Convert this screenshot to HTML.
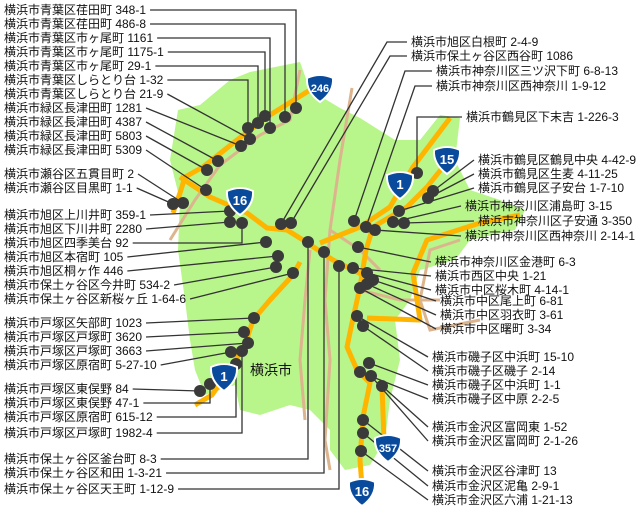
<!DOCTYPE html>
<html><head><meta charset="utf-8"><style>
html,body{margin:0;padding:0;background:#fff}
svg{display:block}
text{font-family:"Liberation Sans","Noto Sans CJK JP",sans-serif;font-size:12px;fill:#111}
.sh text{fill:#fff;font-weight:bold;font-size:13px;text-anchor:middle}
</style></head><body>
<svg id="s" width="640" height="510" viewBox="0 0 640 510" xmlns="http://www.w3.org/2000/svg">
<polygon fill="#b8f58a" points="250,72 300,62 310,90 340,108 360,118 395,140 420,140 440,115 460,118 455,160 470,190 500,200 525,210 515,230 470,240 455,260 420,270 410,300 395,320 400,360 390,400 385,440 370,465 345,470 330,450 330,430 310,410 290,405 260,415 240,410 235,385 205,395 195,370 190,340 185,300 178,250 180,200 170,160 178,110 200,105 230,80"/>
<g fill="none" stroke="#dcb48e" stroke-width="3">
<polyline points="300,70 290,120 260,135 220,165 195,200 170,240"/>
<polyline points="352,88 340,160 330,230 325,300 330,360 325,440 330,470"/>
<polyline points="310,250 305,300 300,360 305,420"/>
<polyline points="460,240 430,250 420,300 430,330 480,320"/>
<polyline points="360,290 400,300 440,300"/>
<polyline points="330,230 360,250 380,270"/>
</g>
<g fill="none" stroke="#ffb400" stroke-width="5" stroke-linejoin="round">
<polyline points="310,90 270,115 237,140 203,167 185,177 180,193 173,213"/>
<polyline points="180,177 210,197 247,213 267,228 287,230 303,240 333,260 353,270 373,280 360,287 352,323 347,347 357,370 370,383 363,417 360,460 363,500"/>
<polyline points="450,118 413,167 390,207 360,227 320,243"/>
<polyline points="443,167 427,187 407,207 373,227 366,250 360,287"/>
<polyline points="520,215 480,223 427,240 413,273 420,320 367,318"/>
<polyline points="300,262 293,275 270,300 253,320 245,345 228,372 212,395 195,405"/>
<polyline points="382,386 384,440"/>
</g>
<g id="lines" stroke="#333" stroke-width="1.3" fill="none"></g>
<g id="dots" fill="#3a3a3a"></g>
<g id="labels"></g>
<text x="250" y="375" style="font-size:14px">横浜市</text>
<g class="sh" id="shields"></g>
</svg>
<script>
var NS="http://www.w3.org/2000/svg";
function el(t,a,p){var e=document.createElementNS(NS,t);for(var k in a)e.setAttribute(k,a[k]);p.appendChild(e);return e;}
var L=[
["横浜市青葉区荏田町 348-1",10,296,108,1],
["横浜市青葉区荏田町 486-8",24,285,117,1],
["横浜市青葉区市ヶ尾町 1161",38,270,128,1],
["横浜市青葉区市ヶ尾町 1175-1",52,265,116,1],
["横浜市青葉区市ヶ尾町 29-1",66,258,123,1],
["横浜市青葉区しらとり台 1-32",80,248,128,1],
["横浜市青葉区しらとり台 21-9",94,250,139,0],
["横浜市緑区長津田町 1281",108,241,146,0],
["横浜市緑区長津田町 4387",122,218,161,0],
["横浜市緑区長津田町 5803",136,207,170,0],
["横浜市緑区長津田町 5309",150,206,190,0],
["横浜市瀬谷区五貫目町 2",174,183,203,0],
["横浜市瀬谷区目黒町 1-1",188,173,204,0],
["横浜市旭区上川井町 359-1",215,230,211,0],
["横浜市旭区下川井町 2280",229,230,222,0],
["横浜市旭区四季美台 92",243,242,223,1],
["横浜市旭区本宿町 105",257,266,242,0],
["横浜市旭区桐ヶ作 446",271,278,256,0],
["横浜市保土ヶ谷区今井町 534-2",285,276,267,0],
["横浜市保土ヶ谷区新桜ヶ丘 1-64-6",299,293,273,0],
["横浜市戸塚区矢部町 1023",323,254,318,0],
["横浜市戸塚区戸塚町 3620",337,244,332,0],
["横浜市戸塚区戸塚町 3663",351,248,343,0],
["横浜市戸塚区原宿町 5-27-10",365,231,352,0],
["横浜市戸塚区東俣野 84",389,200,391,0],
["横浜市戸塚区東俣野 47-1",403,210,384,1],
["横浜市戸塚区原宿町 615-12",417,236,364,1],
["横浜市戸塚区戸塚町 1982-4",433,242,351,1],
["横浜市保土ヶ谷区釜台町 8-3",459,308,242,1],
["横浜市保土ヶ谷区和田 1-3-21",473,324,252,1],
["横浜市保土ヶ谷区天王町 1-12-9",489,339,266,1]];
var R=[
["横浜市旭区白根町 2-4-9",411,42,281,224,387],
["横浜市保土ヶ谷区西谷町 1086",411,56,291,223,390],
["横浜市神奈川区三ツ沢下町 6-8-13",436,71,354,221,405],
["横浜市神奈川区西神奈川 1-9-12",436,86,366,227,415],
["横浜市鶴見区下末吉 1-226-3",466,117,417,173,417],
["横浜市鶴見区鶴見中央 4-42-9",478,160,433,191,0],
["横浜市鶴見区生麦 4-11-25",478,174,428,198,0],
["横浜市鶴見区子安台 1-7-10",478,188,399,211,0],
["横浜市神奈川区浦島町 3-15",465,206,393,222,0],
["横浜市神奈川区子安通 3-350",478,221,404,223,0],
["横浜市神奈川区西神奈川 2-14-1",465,236,375,230,0],
["横浜市神奈川区金港町 6-3",435,262,358,247,0],
["横浜市西区中央 1-21",435,276,353,268,0],
["横浜市中区桜木町 4-14-1",435,290,367,273,0],
["横浜市中区尾上町 6-81",440,301,373,280,0],
["横浜市中区羽衣町 3-61",440,315,367,284,0],
["横浜市中区曙町 3-34",440,329,360,288,0],
["横浜市磯子区中浜町 15-10",432,357,357,316,0],
["横浜市磯子区磯子 2-14",432,371,363,326,0],
["横浜市磯子区中浜町 1-1",432,385,369,363,0],
["横浜市磯子区中原 2-2-5",432,399,360,372,0],
["横浜市金沢区富岡東 1-52",432,427,382,386,0],
["横浜市金沢区富岡町 2-1-26",432,441,371,376,0],
["横浜市金沢区谷津町 13",432,471,363,420,0],
["横浜市金沢区泥亀 2-9-1",432,486,363,433,0],
["横浜市金沢区六浦 1-21-13",432,500,361,451,0]];
var gl=document.getElementById('lines'),gd=document.getElementById('dots'),gt=document.getElementById('labels');
L.forEach(function(a){var t=el('text',{x:4,y:a[1]+4},gt);t.textContent=a[0];var w=t.getComputedTextLength()+8;
var pts=a[4]?[w,a[1],a[2],a[1],a[2],a[3]]:[w,a[1],a[2],a[3]];
el('polyline',{points:pts.join(' ')},gl);el('circle',{cx:a[2],cy:a[3],r:6},gd);});
R.forEach(function(a){var t=el('text',{x:a[1],y:a[2]+4},gt);t.textContent=a[0];
var pts=a[5]?[a[1]-4,a[2],a[5],a[2],a[3],a[4]]:[a[1]-4,a[2],a[3],a[4]];
el('polyline',{points:pts.join(' ')},gl);el('circle',{cx:a[3],cy:a[4],r:6},gd);});
var S=[["246",320,88],["15",447,160],["1",400,185],["16",240,201],["1",224,377],["357",388,448],["16",362,492]];
var gs=document.getElementById('shields');
S.forEach(function(s){var x=s[1],y=s[2];
var d="M"+(x-13)+","+(y-10)+" Q"+x+","+(y-16)+" "+(x+13)+","+(y-10)+" Q"+(x+14)+","+(y+4)+" "+x+","+(y+14)+" Q"+(x-14)+","+(y+4)+" "+(x-13)+","+(y-10)+"Z";
el('path',{d:d,fill:"#0a4a9c",stroke:"#fff","stroke-width":2},gs);
var t=el('text',{x:x,y:y+4},gs);t.textContent=s[0];if(s[0].length==3)t.setAttribute('style','font-size:11px');});
</script>
</body></html>
